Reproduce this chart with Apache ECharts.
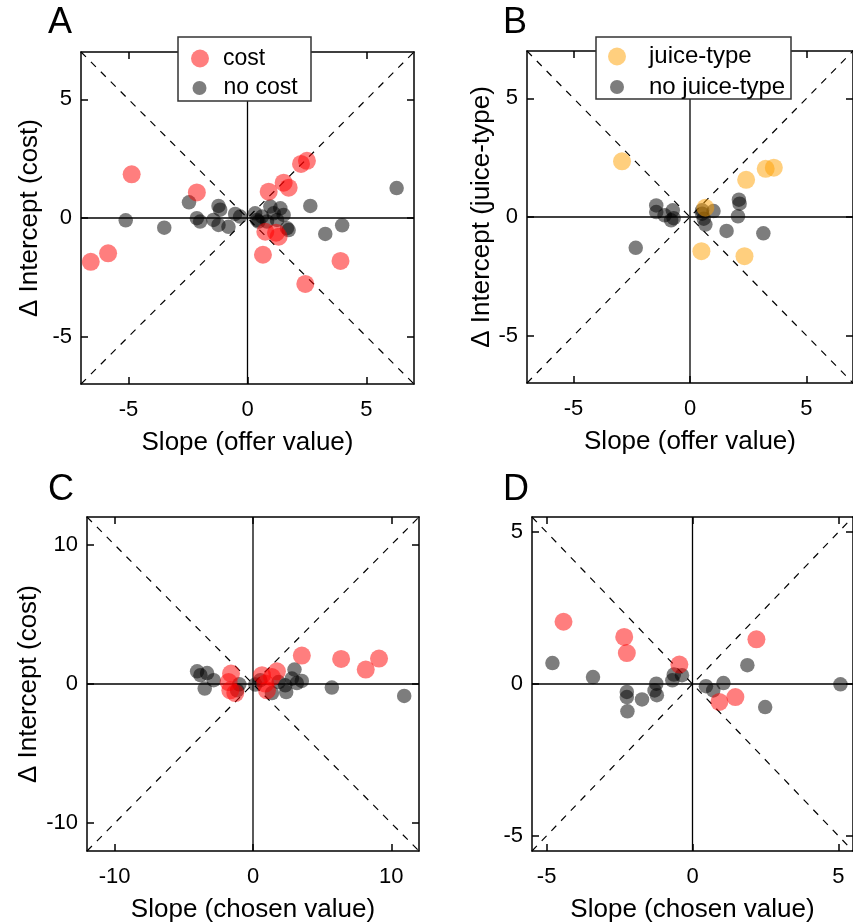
<!DOCTYPE html>
<html><head><meta charset="utf-8">
<script src="https://cdn.jsdelivr.net/npm/echarts@6/dist/echarts.min.js"></script>
<style>html,body{margin:0;padding:0;background:#fff}#c{width:853px;height:924px}</style>
</head><body><div id="c"></div>
<script>
// ---------- data ----------
const panelA_cost = [[-4.87,1.84],[-2.13,1.08],[2.50,2.41],[2.25,2.28],[1.52,1.49],[1.73,1.28],[0.89,1.11],[0.75,-0.58],[1.31,-0.79],[1.20,-0.62],[-6.59,-1.85],[-5.86,-1.49],[0.65,-1.55],[2.43,-2.78],[3.91,-1.81]];
const panelA_nocost = [[6.27,1.26],[2.64,0.51],[-2.46,0.66],[-5.12,-0.10],[-3.50,-0.41],[-1.22,0.51],[-1.15,0.35],[-2.13,-0.01],[-1.99,-0.15],[-1.43,-0.08],[-1.22,-0.29],[-0.80,-0.37],[-0.52,0.17],[-0.31,0.06],[3.27,-0.67],[3.98,-0.31],[0.32,0.20],[0.61,0.06],[0.96,0.48],[1.38,0.41],[1.52,0.13],[1.24,-0.08],[1.66,-0.43],[0.82,-0.15],[0.46,-0.15],[1.10,0.20],[0.40,-0.08],[1.73,-0.51]];
const panelB_juice = [[-2.92,2.35],[2.41,1.57],[3.25,2.03],[3.60,2.08],[0.66,0.39],[0.49,-1.44],[2.34,-1.65]];
const panelB_nojuice = [[-2.33,-1.30],[1.57,-0.59],[3.15,-0.69],[2.06,0.03],[2.13,0.56],[2.10,0.73],[-1.45,0.49],[-1.45,0.21],[-1.09,0.07],[-0.74,0.28],[-0.81,-0.14],[0.52,0.28],[1.01,0.25],[0.59,-0.07],[0.66,-0.32],[0.52,0.14],[-0.70,-0.05]];
const panelC_cost = [[3.53,2.04],[6.37,1.80],[9.11,1.83],[8.15,1.04],[-1.59,0.75],[-1.76,0.14],[-1.64,-0.45],[-1.28,-0.65],[0.65,0.63],[1.73,0.91],[1.37,0.50],[1.01,-0.45],[0.89,0.03]];
const panelC_nocost = [[10.93,-0.86],[5.70,-0.26],[3.00,1.04],[2.81,0.39],[3.53,0.22],[3.17,0.07],[2.40,-0.58],[2.33,-0.09],[-4.04,0.91],[-3.32,0.79],[-3.80,0.63],[-2.84,0.27],[-3.49,-0.33],[-0.99,-0.02],[-1.15,-0.45],[0.17,-0.04],[0.53,0.27],[1.37,-0.65],[1.85,0.14]];
const panelD_cost = [[-4.42,2.05],[-2.34,1.55],[-2.25,1.02],[-0.45,0.64],[2.19,1.47],[0.92,-0.59],[1.47,-0.43]];
const panelD_nocost = [[-4.80,0.69],[-3.41,0.23],[1.88,0.62],[1.06,0.03],[0.46,-0.07],[0.71,-0.21],[5.07,-0.01],[2.49,-0.76],[-1.24,0.01],[-0.69,0.12],[-0.64,0.31],[-0.36,0.29],[-1.30,-0.21],[-1.22,-0.37],[-2.25,-0.26],[-2.25,-0.43],[-1.73,-0.51],[-2.23,-0.90]];

const axisLimits = [7, 7, 12, 5.5];
const tickValues = [[-5,0,5],[-5,0,5],[-10,0,10],[-5,0,5]];
const xNames = ['Slope (offer value)','Slope (offer value)','Slope (chosen value)','Slope (chosen value)'];
const yNames = ['\u0394 Intercept (cost)','\u0394 Intercept (juice-type)','\u0394 Intercept (cost)',''];
const panelLetters = ['A','B','C','D'];

// ---------- layout / style ----------
const FONT = "'Liberation Sans', Arial, Helvetica, sans-serif";
const grids = [
  {left:81, top:52, width:333, height:332},
  {left:527, top:51, width:333, height:332},
  {left:87, top:517, width:332, height:334},
  {left:532, top:517, width:332, height:334}
];
const yNameGaps = [38, 15, 44, 0];
const RED = 'rgba(255,0,0,0.63)', GRAY = 'rgba(0,0,0,0.64)', ORANGE = 'rgba(255,160,0,0.63)';

const xAxes = [], yAxes = [], series = [];
function axisCommon(i, showLabel, margin) {
  return {
    type:'value', gridIndex:i, min:-axisLimits[i], max:axisLimits[i],
    axisLine:{show:true, onZero:false, lineStyle:{color:'#000', width:1.5}},
    axisTick:{show:true, inside:true, length:7, customValues:tickValues[i], lineStyle:{color:'#000', width:1.5}},
    axisLabel:{show:showLabel, customValues:tickValues[i], fontSize:22, color:'#000', fontFamily:FONT, margin:margin},
    splitLine:{show:false}
  };
}
for (let i = 0; i < 4; i++) {
  xAxes.push(Object.assign(axisCommon(i, true, 15), {position:'bottom', name:xNames[i], nameLocation:'middle', nameGap:46,
    nameTextStyle:{fontSize:26, color:'#000', fontFamily:FONT}}));
  xAxes.push(Object.assign(axisCommon(i, false, 8), {position:'top'}));
  yAxes.push(Object.assign(axisCommon(i, true, 9), {position:'left', name:yNames[i], nameLocation:'middle', nameGap:yNameGaps[i],
    nameTextStyle:{fontSize:26, color:'#000', fontFamily:FONT}}));
  yAxes.push(Object.assign(axisCommon(i, false, 8), {position:'right'}));
  const L = axisLimits[i];
  const base = {type:'line', xAxisIndex:2*i, yAxisIndex:2*i, symbol:'none', silent:true, z:1, animation:false};
  series.push(Object.assign({}, base, {data:[[0,-L],[0,L]], lineStyle:{color:'#000', width:1.3}}));
  series.push(Object.assign({}, base, {data:[[-L,0],[L,0]], lineStyle:{color:'#000', width:1.3}}));
  series.push(Object.assign({}, base, {data:[[-L,-L],[L,L]], lineStyle:{color:'#000', width:1.2, type:[7,7]}}));
  series.push(Object.assign({}, base, {data:[[-L,L],[L,-L]], lineStyle:{color:'#000', width:1.2, type:[7,7]}}));
}
function scatter(i, name, data, color, size) {
  return {type:'scatter', name:name, xAxisIndex:2*i, yAxisIndex:2*i, data:data, symbolSize:size,
    itemStyle:{color:color, borderWidth:0}, z:3, animation:false};
}
series.push(scatter(0, 'no cost', panelA_nocost, GRAY, 14.5));
series.push(scatter(0, 'cost', panelA_cost, RED, 18));
series.push(scatter(1, 'no juice-type', panelB_nojuice, GRAY, 14.5));
series.push(scatter(1, 'juice-type', panelB_juice, ORANGE, 18));
series.push(scatter(2, 'no cost', panelC_nocost, GRAY, 14.5));
series.push(scatter(2, 'cost', panelC_cost, RED, 18));
series.push(scatter(3, 'no cost', panelD_nocost, GRAY, 14.5));
series.push(scatter(3, 'cost', panelD_cost, RED, 18));

function legendItem(name, left, top, size, fontSize, padLeft) {
  return {data:[name], left:left, top:top, padding:0, itemWidth:size, itemHeight:size, icon:'circle',
    selectedMode:false, z:200, textStyle:{fontSize:fontSize, color:'#000', fontFamily:FONT, padding:[0,0,0,padLeft]}};
}
const legends = [
  legendItem('cost', 191, 47, 18, 23, 9),
  legendItem('no cost', 192.5, 76.5, 14, 23, 12),
  legendItem('juice-type', 608, 44.5, 18, 24, 18),
  legendItem('no juice-type', 610, 75, 14, 24, 20)
];
const titlePos = [[48,5],[503,5],[48,472],[503,472]];
const titles = panelLetters.map((t, k) => ({text:t, left:titlePos[k][0], top:titlePos[k][1], padding:0,
  textStyle:{fontSize:36, fontWeight:'normal', color:'#000', fontFamily:FONT}}));

const chart = echarts.init(document.getElementById('c'));
chart.setOption({
  backgroundColor:'#fff',
  animation:false,
  title:titles,
  grid:grids,
  xAxis:xAxes,
  yAxis:yAxes,
  legend:legends,
  graphic:[
    {type:'rect', shape:{x:178, y:37, width:133, height:64}, style:{fill:'#fff', stroke:'#333', lineWidth:1.5}, z:100},
    {type:'rect', shape:{x:596, y:37, width:195, height:62}, style:{fill:'#fff', stroke:'#333', lineWidth:1.5}, z:100}
  ],
  series:series
});
</script>
</body></html>
